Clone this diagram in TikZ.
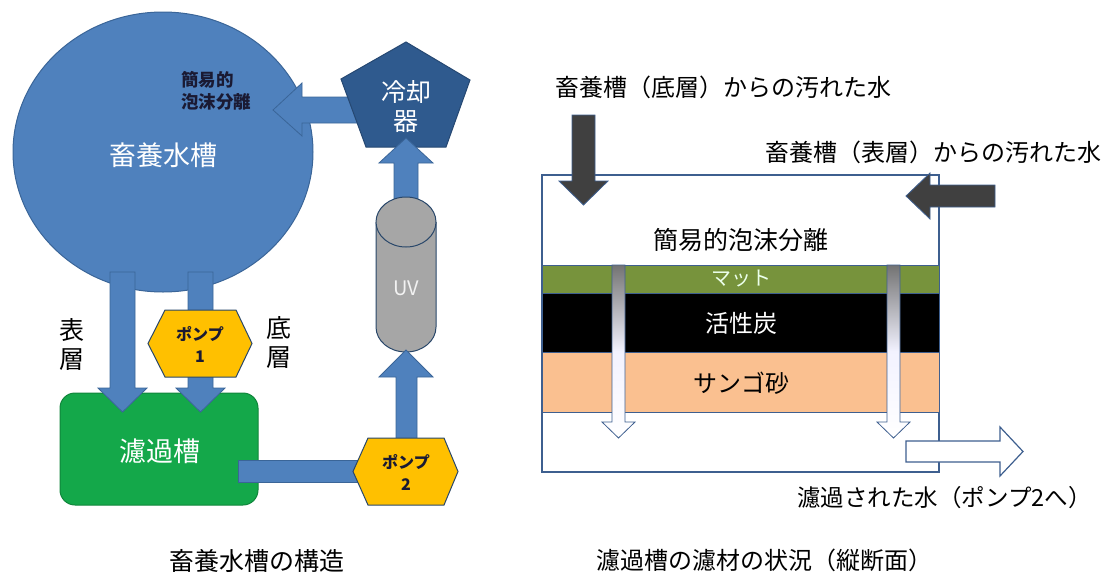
\documentclass[tikz,border=0pt]{standalone}
\usepackage{fontspec}
\setmainfont{Noto Sans CJK JP}
\usetikzlibrary{shapes.geometric}
\definecolor{tankblue}{HTML}{4F81BD}
\definecolor{tankline}{HTML}{3A6598}
\definecolor{coolblue}{HTML}{2F5A8E}
\definecolor{filtergreen}{HTML}{14A84A}
\definecolor{pumpgold}{HTML}{FFC000}
\definecolor{uvgray}{HTML}{A6A6A6}
\definecolor{matgreen}{HTML}{77933C}
\definecolor{peach}{HTML}{FAC090}
\definecolor{darkarrow}{HTML}{404040}
\definecolor{boxline}{HTML}{3E5F8F}
\definecolor{smalltext}{HTML}{1A1A33}
\tikzset{
  blockarrow/.style={fill=tankblue, draw=tankline, line width=0.8pt},
  darkblock/.style={fill=darkarrow, draw=boxline, line width=0.8pt},
  pumpshape/.style={fill=pumpgold, draw=tankline!70!black, line width=1pt},
  band/.style={draw=boxline, line width=0.8pt},
  gradarrow/.style={top color=black!55, bottom color=white, middle color=blue!5, draw=boxline, line width=0.8pt},
  lbl/.style={inner sep=0pt, font=\fontsize{24}{28}\selectfont},
}
\begin{document}
\begin{tikzpicture}[x=1pt,y=-1pt]
\useasboundingbox (0,0) rectangle (1109,576);

% ---------------- left: tank structure ----------------
\node[ellipse, fill=tankblue, draw=tankline, line width=1pt, minimum width=300pt, minimum height=280pt, inner sep=0pt] (tank) at (163,152) {};
\node[lbl, text=white, font=\fontsize{27}{30}\selectfont] (tanktxt) at (163,155) {畜養水槽};
\node[inner sep=0pt, anchor=west, align=left, text=smalltext, font=\fontsize{17.5}{22}\selectfont\bfseries] (foam) at (181,91) {簡易的\\泡沫分離};

% cooler -> tank arrow
\draw[blockarrow] (365,97) -- (302,97) -- (302,83) -- (273,110) -- (302,136) -- (302,123) -- (365,123) -- cycle;

% cooler pentagon
\path[fill=coolblue, draw=coolblue!80!black, line width=1pt] (406,42) -- (470,80) -- (446,147) -- (366,147) -- (341,79) -- cycle;
\node[lbl, text=white, align=center, font=\fontsize{25}{29}\selectfont] (cooler) at (406,107) {冷却\\器};

% UV -> cooler arrow
\draw[blockarrow] (394,230) -- (394,163) -- (379,163) -- (406,138) -- (433,163) -- (418,163) -- (418,230) -- cycle;

% UV cylinder
\draw[fill=uvgray, draw=tankline!70!black, line width=1pt] (376,222) -- (376,327) .. controls (376,340.8) and (389.2,352) .. (406,352) .. controls (422.8,352) and (436,340.8) .. (436,327) -- (436,222);
\draw[fill=uvgray, draw=tankline!70!black, line width=1pt] (406,222) ellipse [x radius=30pt, y radius=25pt];
\node[lbl, text=white!95!black, font=\fontsize{20}{24}\selectfont] (uv) at (406,288) {UV};

% pump2 -> UV arrow
\draw[blockarrow] (396,445) -- (396,377) -- (379,377) -- (406,350) -- (433,377) -- (417,377) -- (417,445) -- cycle;

% filter tank
\node[rectangle, rounded corners=15pt, fill=filtergreen, draw=filtergreen!80!black, line width=1pt, minimum width=198pt, minimum height=112pt, inner sep=0pt] (filter) at (159,449) {};
\node[lbl, text=white, font=\fontsize{27}{30}\selectfont] (filtertxt) at (160,451) {濾過槽};

% tank -> filter arrows
\draw[blockarrow] (110,272) -- (110,388) -- (98,388) -- (122.5,412) -- (147,388) -- (135,388) -- (135,272) -- cycle;
\draw[blockarrow] (188,272) -- (188,388) -- (176,388) -- (200.5,412) -- (225,388) -- (213,388) -- (213,272) -- cycle;

% filter -> pump2 bar
\draw[blockarrow] (238,460) rectangle (362,482);

% pumps
\path[pumpshape] (148,343.5) -- (165,310) -- (236,310) -- (252,343.5) -- (236,377) -- (165,377) -- cycle;
\node[inner sep=0pt, align=center, text=smalltext, font=\fontsize{16}{22}\selectfont\bfseries] (pump1) at (200,344) {ポンプ\\1};
\path[pumpshape] (353,471.5) -- (368,438) -- (444,438) -- (458,471.5) -- (444,505) -- (368,505) -- cycle;
\node[inner sep=0pt, align=center, text=smalltext, font=\fontsize{16}{22}\selectfont\bfseries] (pump2) at (406,472) {ポンプ\\2};

% layer labels
\node[lbl, align=center, font=\fontsize{25}{29}\selectfont] (surf) at (72,344) {表\\層};
\node[lbl, align=center, font=\fontsize{25}{29}\selectfont] (bott) at (279,342) {底\\層};

\node[lbl, font=\fontsize{25}{29}\selectfont] (title1) at (257,561) {畜養水槽の構造};

% ---------------- right: filter cross-section ----------------
\draw[fill=white, draw=boxline, line width=1.5pt] (542,175) rectangle (939,472);
\path[band, fill=matgreen] (542,265) rectangle (939,293);
\path[band, fill=black] (542,293) rectangle (939,352);
\path[band, fill=peach] (542,352) rectangle (939,412);

\node[lbl, font=\fontsize{25}{29}\selectfont] (foam2) at (741,240) {簡易的泡沫分離};
\node[lbl, text=green!8!white, font=\fontsize{20}{24}\selectfont] (mat) at (741,279) {マット};
\node[lbl, text=white] (carbon) at (741,323) {活性炭};
\node[lbl] (sand) at (741,383) {サンゴ砂};

% gradient flow arrows
\path[gradarrow] (612,265) -- (612,422) -- (602,422) -- (618.5,438) -- (635,422) -- (625,422) -- (625,265) -- cycle;
\path[gradarrow] (887,265) -- (887,422) -- (877,422) -- (893.5,438) -- (910,422) -- (900,422) -- (900,265) -- cycle;

% incoming dark arrows
\draw[darkblock] (572,115) -- (572,181) -- (559,181) -- (583.5,205) -- (608,181) -- (595,181) -- (595,115) -- cycle;
\draw[darkblock] (995,185) -- (930,185) -- (930,173) -- (906,196) -- (930,219) -- (930,207) -- (995,207) -- cycle;

% outgoing outline arrow
\draw[fill=white, draw=boxline, line width=1.2pt] (906,441) -- (1000,441) -- (1000,427) -- (1023,451.5) -- (1000,476) -- (1000,462) -- (906,462) -- cycle;

\node[lbl, anchor=west] (in1) at (555,87) {畜養槽（底層）からの汚れた水};
\node[lbl, anchor=east] (in2) at (1102,152) {畜養槽（表層）からの汚れた水};
\node[lbl, anchor=east, font=\fontsize{23.5}{27}\selectfont] (out) at (1092,498) {濾過された水（ポンプ2へ）};
\node[lbl] (title2) at (764,560) {濾過槽の濾材の状況（縦断面）};
\end{tikzpicture}
\end{document}
